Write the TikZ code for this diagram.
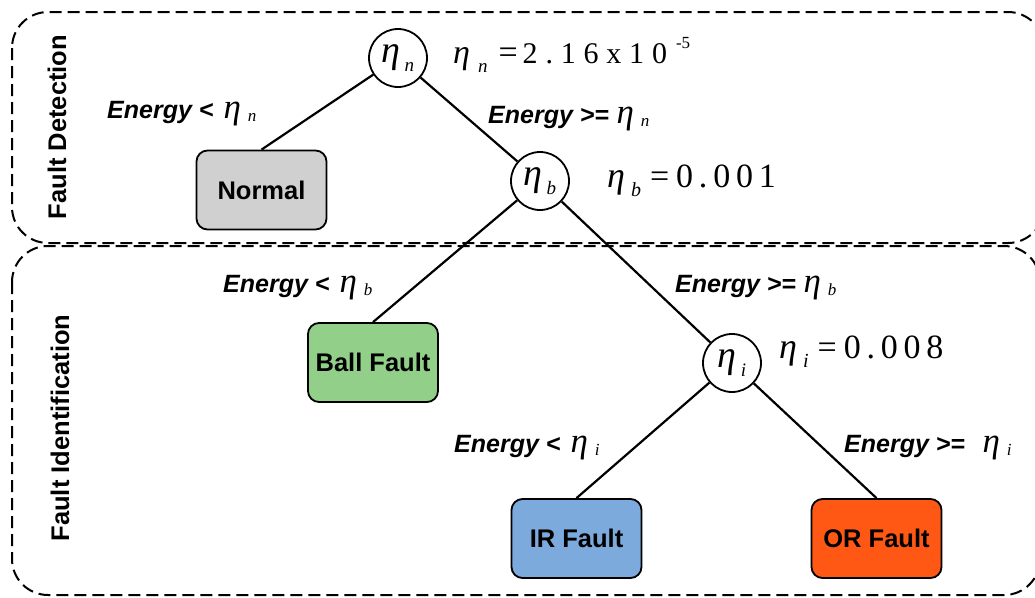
\documentclass[tikz,border=0pt]{standalone}
\usepackage{fontspec}
\setmainfont{Liberation Serif}
\setsansfont{Liberation Sans}
\newfontfamily\arialfont{Liberation Sans}
\newfontfamily\timesfont{Liberation Serif}
\newfontfamily\timesls[LetterSpace=26]{Liberation Serif}
\newfontfamily\timeslsb[LetterSpace=17]{Liberation Serif}
\definecolor{normalgray}{RGB}{208,208,208}
\definecolor{ballgreen}{RGB}{146,208,138}
\definecolor{irblue}{RGB}{124,170,220}
\definecolor{ororange}{RGB}{255,88,20}
% size, subsize, sub, kern, lower
\newcommand\eeta[5]{{\normalfont\timesfont\itshape\fontsize{#1}{#1}\selectfont η\kern#4\raisebox{-#5}{\fontsize{#2}{#2}\selectfont #3}}}
\tikzset{
  dashbox/.style={draw, line width=2pt, dash pattern=on 12pt off 6pt, rounded corners=36pt},
  leaf/.style={draw, line width=1.8pt, rounded corners=11pt, minimum width=130pt, minimum height=79pt, inner sep=0pt,
    font=\arialfont\bfseries\fontsize{25.5}{30}\selectfont},
  thr/.style={draw, circle, line width=1.8pt, minimum size=58pt, inner sep=0pt},
  lbl/.style={inner sep=0pt, anchor=base west, font=\arialfont\bfseries\itshape\fontsize{25}{30}\selectfont},
  eqn/.style={inner sep=0pt, anchor=base west},
  side/.style={rotate=90, inner sep=0pt, font=\arialfont\bfseries\fontsize{25.5}{30}\selectfont},
  edge/.style={draw, line width=2.2pt}
}
\begin{document}
\begin{tikzpicture}[x=1pt,y=-1pt]
\clip (0,0) rectangle (1035,597);
\fill[white] (0,0) rectangle (1035,597);
% group boxes
\draw[dashbox] (12,12) rectangle (1044,243);
\draw[dashbox] (12,246) rectangle (1040,595);
\node[side] (fd) at (57,127) {Fault Detection};
\node[side] (fi) at (60,428) {Fault Identification};
% threshold nodes
\node[thr] (en) at (398,58) {\eeta{38}{19}{n}{4pt}{9pt}};
\node[thr] (eb) at (540,181) {\eeta{38}{19}{b}{4pt}{9pt}};
\node[thr] (ei) at (732,363) {\eeta{38}{19}{i}{4pt}{9pt}};
% leaves
\node[leaf, fill=normalgray] (normal) at (261.5,190) {Normal};
\node[leaf, fill=ballgreen] (ball) at (373,362.5) {Ball Fault};
\node[leaf, fill=irblue] (ir) at (576.5,538.5) {IR Fault};
\node[leaf, fill=ororange] (or) at (876.5,538.5) {OR Fault};
% connectors
\draw[edge] (en) -- (normal.north);
\draw[edge] (en) -- (eb);
\draw[edge] (eb) -- (ball.north);
\draw[edge] (eb) -- (ei);
\draw[edge] (ei) -- (ir.north);
\draw[edge] (ei) -- (or.north);
% branch labels
\node[lbl] (l1) at (107,118) {Energy <\hspace{0.4em}\eeta{35}{17}{n}{7pt}{3pt}};
\node[lbl] (l2) at (488,123) {Energy >=\hspace{0.3em}\eeta{35}{17}{n}{7pt}{3pt}};
\node[lbl] (l3) at (223,292) {Energy <\hspace{0.4em}\eeta{35}{17}{b}{7pt}{3pt}};
\node[lbl] (l4) at (675,292) {Energy >=\hspace{0.3em}\eeta{35}{17}{b}{7pt}{3pt}};
\node[lbl] (l5) at (454,452) {Energy <\hspace{0.4em}\eeta{35}{17}{i}{7pt}{3pt}};
\node[lbl] (l6) at (844,452) {Energy >=\hspace{0.7em}\eeta{35}{17}{i}{7pt}{3pt}};
% threshold values
\node[eqn] (v1) at (453,63) {\eeta{34}{19}{n}{8pt}{9pt}\kern11pt{\timesfont\fontsize{34}{34}\selectfont=}\kern5pt{\timesls\fontsize{30}{30}\selectfont 2.16x10}\kern9pt\raisebox{15pt}{\timesfont\fontsize{17}{17}\selectfont -5}};
\node[eqn] (v2) at (607,187) {\eeta{36}{20}{b}{6pt}{9pt}\kern9pt{\timesfont\fontsize{34}{36}\selectfont=}\kern7pt{\timeslsb\fontsize{34}{36}\selectfont 0.001}};
\node[eqn] (v3) at (779,358) {\eeta{36}{20}{i}{6pt}{9pt}\kern9pt{\timesfont\fontsize{34}{36}\selectfont=}\kern7pt{\timeslsb\fontsize{34}{36}\selectfont 0.008}};
\end{tikzpicture}
\end{document}
